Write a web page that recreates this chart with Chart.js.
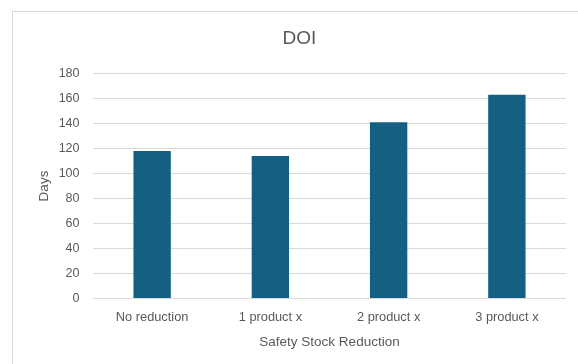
<!DOCTYPE html>
<html>
<head>
<meta charset="utf-8">
<script src="https://cdn.jsdelivr.net/npm/chart.js@4/dist/chart.umd.min.js"></script>
<style>
  html, body { margin: 0; padding: 0; background: #ffffff; overflow: hidden; }
  #wrap { position: relative; width: 578px; height: 364px; }
  #frame {
    position: absolute; left: 12px; top: 11px; width: 640px; height: 420px;
    border: 1px solid #d9d9d9; box-sizing: border-box; pointer-events: none;
  }
  canvas { position: absolute; left: 0; top: 0; }
</style>
</head>
<body>
<div id="wrap">
  <div id="frame"></div>
  <canvas id="chart" width="578" height="364"></canvas>
</div>
<script>
// Days of inventory by safety stock reduction scenario
const categories = ['No reduction', '1 product x', '2 product x', '3 product x'];
const doiDays = [118, 114, 141, 163];
const yTicks = [0, 20, 40, 60, 80, 100, 120, 140, 160, 180];

const textColor = '#595959';
const gridColor = '#d9d9d9';
const barColor = '#156082';
const fontFamily = '"Liberation Sans", Arial, sans-serif';

new Chart(document.getElementById('chart'), {
  type: 'bar',
  data: {
    labels: categories,
    datasets: [{
      label: 'DOI',
      data: doiDays,
      backgroundColor: barColor,
      borderWidth: 0,
      categoryPercentage: 1,
      barPercentage: 0.316
    }]
  },
  options: {
    responsive: false,
    animation: false,
    layout: { padding: { left: 33, right: 12, top: 0, bottom: 0 } },
    plugins: {
      legend: { display: false },
      tooltip: { enabled: false },
      title: {
        display: true,
        text: 'DOI',
        color: textColor,
        font: { family: fontFamily, size: 19, weight: 'normal' },
        padding: { top: 27, bottom: 23.7 }
      }
    },
    scales: {
      x: {
        grid: { display: false, drawTicks: false },
        border: { display: false },
        ticks: {
          color: textColor,
          padding: 11.3,
          font: { family: fontFamily, size: 12.8 }
        },
        title: {
          display: true,
          text: 'Safety Stock Reduction',
          color: textColor,
          font: { family: fontFamily, size: 13.5 },
          padding: { top: 0, bottom: 13.9 }
        },
        afterFit: (scale) => { scale.height = 65.5; }
      },
      y: {
        min: 0,
        max: 180,
        afterBuildTicks: (scale) => { scale.ticks = yTicks.map(v => ({ value: v })); },
        grid: { color: gridColor, lineWidth: 1, drawTicks: false },
        border: { display: false },
        ticks: {
          color: textColor,
          padding: 13.5,
          font: { family: fontFamily, size: 12.5 }
        },
        title: {
          display: true,
          text: 'Days',
          color: textColor,
          font: { family: fontFamily, size: 13.5 },
          padding: { top: 2.9, bottom: 0 }
        },
        afterFit: (scale) => { scale.width = 60; }
      }
    }
  }
});
</script>
</body>
</html>
